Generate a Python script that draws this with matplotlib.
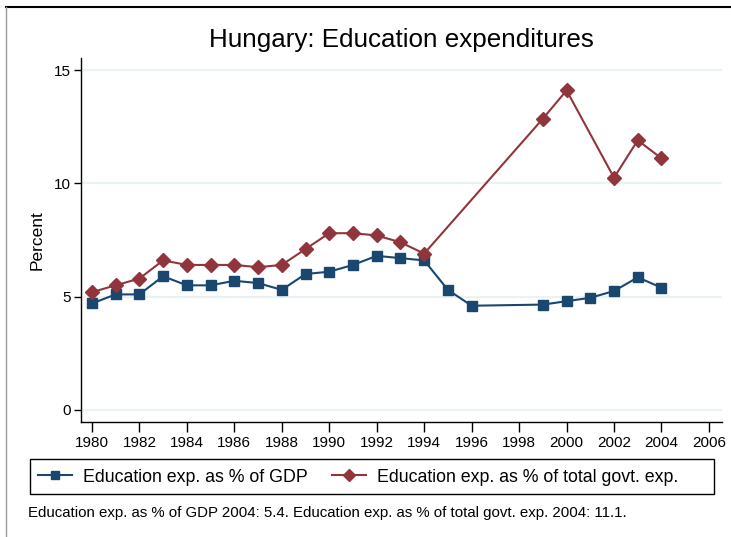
import matplotlib
matplotlib.use("Agg")
import matplotlib.pyplot as plt
from matplotlib.lines import Line2D
from matplotlib.patches import Rectangle

plt.rcParams['font.family'] = ['Liberation Sans', 'DejaVu Sans']

years_gdp = [1980, 1981, 1982, 1983, 1984, 1985, 1986, 1987, 1988, 1989, 1990,
             1991, 1992, 1993, 1994, 1995, 1996, 1999, 2000, 2001, 2002, 2003, 2004]
gdp = [4.7, 5.1, 5.1, 5.9, 5.5, 5.5, 5.7, 5.6, 5.3, 6.0, 6.1,
       6.4, 6.8, 6.7, 6.6, 5.3, 4.6, 4.65, 4.8, 4.95, 5.25, 5.85, 5.4]

years_gov = [1980, 1981, 1982, 1983, 1984, 1985, 1986, 1987, 1988, 1989, 1990,
             1991, 1992, 1993, 1994, 1999, 2000, 2002, 2003, 2004]
gov = [5.2, 5.5, 5.8, 6.6, 6.4, 6.4, 6.4, 6.3, 6.4, 7.1, 7.8,
       7.8, 7.7, 7.4, 6.9, 12.85, 14.1, 10.25, 11.9, 11.1]

xticks = list(range(1980, 2007, 2))
yticks = [0, 5, 10, 15]
title = "Hungary: Education expenditures"
ylabel = "Percent"
labels = ["Education exp. as % of GDP", "Education exp. as % of total govt. exp."]
caption = "Education exp. as % of GDP 2004: 5.4. Education exp. as % of total govt. exp. 2004: 11.1."

blue = "#1a476f"
red = "#90353b"
grid = "#eaf2f3"

W, H = 731, 537
fig = plt.figure(figsize=(W / 100, H / 100), dpi=100)
fig.patch.set_facecolor("white")

ax = fig.add_axes([81 / W, 1 - 422 / H, (722 - 81) / W, (422 - 58) / H])
ax.set_xlim(1979.54, 2006.55)
ax.set_ylim(-0.53, 15.53)

for yv in yticks:
    ax.axhline(yv, color=grid, lw=1.6, zorder=0)

ax.plot(years_gdp, gdp, color=blue, lw=1.5, marker="s", ms=7.5,
        markeredgecolor=blue, zorder=3)
ax.plot(years_gov, gov, color=red, lw=1.5, marker="D", ms=7.5,
        markeredgecolor=red, zorder=3)

ax.set_xticks(xticks)
ax.set_yticks(yticks)
ax.tick_params(axis="both", labelsize=11, colors="black", width=1, direction="out")
ax.tick_params(axis="x", length=7, pad=3)
ax.tick_params(axis="y", length=5, pad=2)
for s in ["top", "right"]:
    ax.spines[s].set_visible(False)
for s in ["left", "bottom"]:
    ax.spines[s].set_linewidth(1.0)

ax.set_ylabel(ylabel, fontsize=12.5, labelpad=7)
fig.text(401 / W, 1 - 40 / H, title, ha="center", va="center", fontsize=18.7)

handles = [
    Line2D([], [], color=blue, lw=1.5, marker="s", ms=5.5),
    Line2D([], [], color=red, lw=1.5, marker="D", ms=6),
]
fs_leg = 12.8
px = fs_leg * 100 / 72
leg = fig.legend(handles, labels, loc="center left",
                 bbox_to_anchor=(38 / W, 1 - 477 / H),
                 ncol=2, fontsize=fs_leg, frameon=False,
                 handlelength=34 / px, handletextpad=11 / px,
                 columnspacing=24 / px, borderpad=0, borderaxespad=0)

fig.add_artist(Rectangle((30 / W, 1 - 494 / H), (714 - 30) / W, (494 - 459) / H,
                         transform=fig.transFigure, fill=False,
                         edgecolor="black", lw=1.0))

fig.text(28 / W, 1 - 513 / H, caption, ha="left", va="center", fontsize=10.8)

# outer frame
fig.add_artist(Line2D([6 / W, 1], [1 - 7 / H, 1 - 7 / H], color="black", lw=1.5,
                      transform=fig.transFigure))
fig.add_artist(Line2D([6 / W, 6 / W], [0, 1 - 7 / H], color="#9a9a9a", lw=1.0,
                      transform=fig.transFigure))

fig.savefig("out.png", dpi=100)
